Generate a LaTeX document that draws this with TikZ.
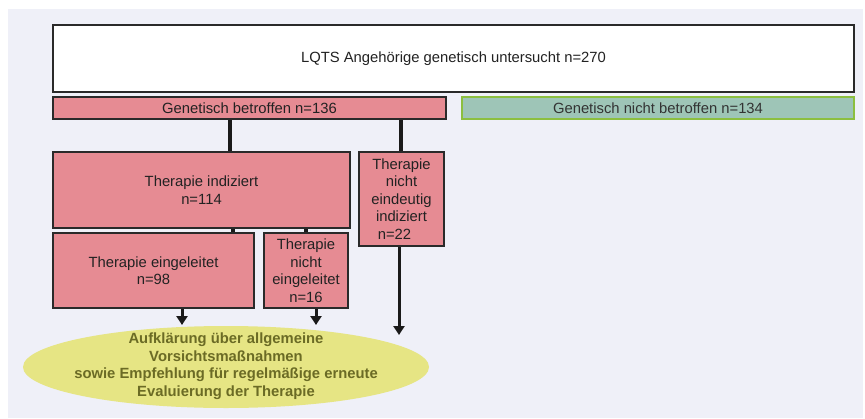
\documentclass[tikz,border=0pt]{standalone}
\usepackage{fontspec}
\setmainfont{Liberation Sans}
\usetikzlibrary{arrows.meta,shapes.geometric}
\definecolor{bgc}{HTML}{EFF0F8}
\definecolor{pinkc}{HTML}{E68B93}
\definecolor{greenf}{HTML}{9EC5B7}
\definecolor{greend}{HTML}{8CBF3F}
\definecolor{ellf}{HTML}{E6E584}
\definecolor{ellt}{HTML}{6B6B25}
\definecolor{txt}{HTML}{222222}
\definecolor{bord}{HTML}{2A2A2A}
\definecolor{linec}{HTML}{1A1A1A}
\begin{document}
\begin{tikzpicture}[x=1pt,y=-1pt,
  basebox/.style={line width=2pt, inner sep=0pt, text=txt, align=center,
    font=\fontsize{14.8}{17.5}\selectfont},
  pinkbox/.style={basebox, draw=bord, fill=pinkc},
  topbox/.style={basebox, draw=bord, fill=white},
  greenbox/.style={basebox, draw=greend, fill=greenf, text=black!80},
  elltext/.style={inner sep=0pt, align=center, text=ellt,
    font=\fontsize{14.8}{17.5}\selectfont\bfseries},
  conn/.style={draw=linec, line width=3.2pt},
  arr/.style={draw=linec, line width=3pt, -{Triangle[width=11pt,length=9pt]}}
]
\useasboundingbox (0,0) rectangle (865,418);
\fill[white] (0,0) rectangle (865,418);
\fill[bgc] (8,9) rectangle (863,418);

\node[topbox, minimum width=801pt, minimum height=67pt] (top) at (453.5,58.5)
  {LQTS Angehörige genetisch untersucht n=270};
\node[pinkbox, minimum width=393pt, minimum height=22pt] (betr) at (249.5,108)
  {Genetisch betroffen n=136};
\node[greenbox, minimum width=392pt, minimum height=22pt] (nbetr) at (658,108)
  {Genetisch nicht betroffen n=134};
\node[pinkbox, minimum width=297pt, minimum height=76pt] (ind) at (201.5,190)
  {Therapie indiziert\\n=114};
\node[pinkbox, minimum width=85pt, minimum height=94pt] (neind) at (401.5,199)
  {Therapie\\nicht\\eindeutig\\indiziert\\n=22\hspace*{14pt}};
\node[pinkbox, minimum width=201pt, minimum height=75pt] (eing) at (153.5,270.5)
  {Therapie eingeleitet\\n=98};
\node[pinkbox, minimum width=84pt, minimum height=75pt] (neing) at (306,270.5)
  {Therapie\\nicht\\eingeleitet\\n=16};

\fill[ellf] (226,367) ellipse [x radius=203pt, y radius=41pt];
\node[elltext] (ell) at (226,366)
  {Aufklärung über allgemeine\\Vorsichtsmaßnahmen\\sowie Empfehlung für regelmäßige erneute\\Evaluierung der Therapie};

\draw[conn] (230,0 |- betr.south) -- (230,0 |- ind.north);
\draw[conn] (401,0 |- betr.south) -- (401,0 |- neind.north);
\draw[conn] (233,0 |- ind.south) -- (233,0 |- eing.north);
\draw[conn] (306,0 |- ind.south) -- (306,0 |- neing.north);

\coordinate (e1) at (182,325);
\coordinate (e2) at (316,325);
\coordinate (e3) at (399,335);
\draw[arr] (182,0 |- eing.south) -- (e1);
\draw[arr] (316,0 |- neing.south) -- (e2);
\draw[arr] (399,0 |- neind.south) -- (e3);
\end{tikzpicture}
\end{document}
